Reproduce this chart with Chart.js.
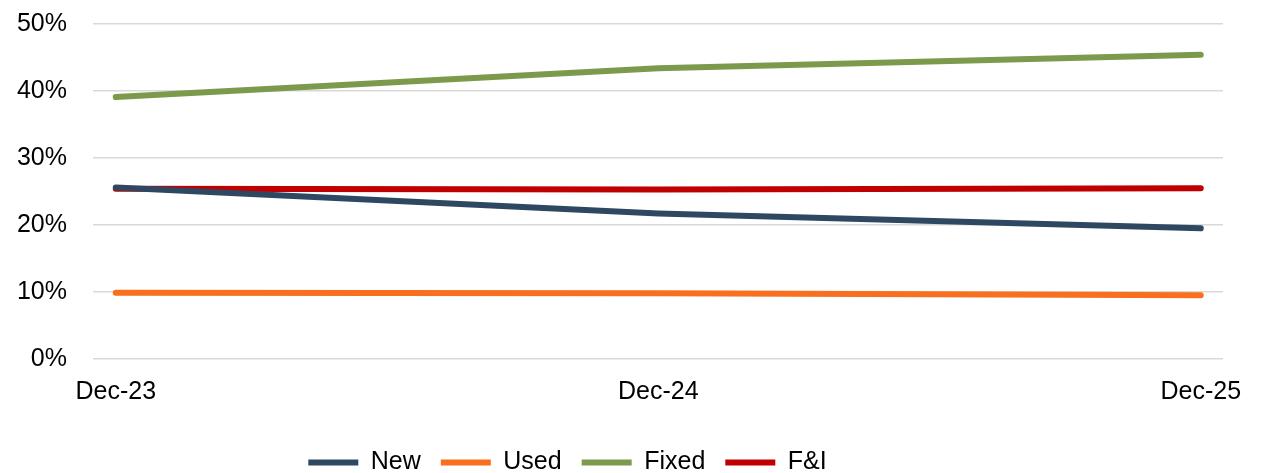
<!DOCTYPE html>
<html>
<head>
<meta charset="utf-8">
<script src="https://cdn.jsdelivr.net/npm/chart.js@4/dist/chart.umd.min.js"></script>
<style>
  html, body { margin: 0; padding: 0; background: #fff; }
  #wrap { width: 1266px; height: 473px; }
</style>
</head>
<body>
<div id="wrap"><canvas id="c"></canvas></div>
<script>
// Period labels along the bottom axis
const periods = ['Dec-23', 'Dec-24', 'Dec-25'];

// Share of gross profit by department, in percent
const newShare   = [25.6, 21.7, 19.5];
const usedShare  = [9.9, 9.8, 9.5];
const fixedShare = [39.1, 43.4, 45.4];
const fiShare    = [25.4, 25.3, 25.5];

// Value-axis ticks
const yTicks = [0, 10, 20, 30, 40, 50];

const FONT = "'Liberation Sans', Arial, sans-serif";
const FONT_SIZE = 25;

function series(label, values, color) {
  return {
    label,
    data: values.map((v, i) => ({ x: i, y: v })),
    borderColor: color,
    backgroundColor: color,
    borderWidth: 6,
    borderCapStyle: 'round',
    borderJoinStyle: 'round',
    pointRadius: 0,
    pointHoverRadius: 0,
    tension: 0,
    pointStyle: 'line'
  };
}

// Places the legend row slightly left of centre and near the bottom edge
const legendShift = {
  id: 'legendShift',
  afterLayout(chart) {
    const lg = chart.legend;
    if (lg) { lg.left -= 44; lg.right -= 44; lg.top += 12; lg.bottom += 12; }
  }
};

new Chart(document.getElementById('c'), {
  type: 'line',
  data: {
    datasets: [
      series('New', newShare, '#2E4862'),
      series('Used', usedShare, '#F96F1E'),
      series('Fixed', fixedShare, '#7B9A4B'),
      series('F&I', fiShare, '#C00000')
    ]
  },
  plugins: [legendShift],
  options: {
    responsive: true,
    maintainAspectRatio: false,
    animation: false,
    layout: { padding: { top: 0, right: 43, left: 0, bottom: 0 } },
    plugins: {
      tooltip: { enabled: false },
      legend: {
        position: 'bottom',
        labels: {
          usePointStyle: true,
          pointStyleWidth: 50,
          padding: 20,
          color: '#000',
          font: { family: FONT, size: FONT_SIZE }
        }
      }
    },
    scales: {
      x: {
        type: 'linear',
        min: -0.042,
        max: 2.041,
        afterBuildTicks(scale) {
          scale.ticks = periods.map((_, i) => ({ value: i }));
        },
        afterFit(scale) {
          scale.height = 59;
        },
        ticks: {
          autoSkip: false,
          maxRotation: 0,
          padding: 18,
          color: '#000',
          font: { family: FONT, size: FONT_SIZE },
          callback: (v) => periods[v]
        },
        grid: { display: false, drawTicks: false },
        border: { display: false }
      },
      y: {
        min: 0,
        max: 50,
        afterBuildTicks(scale) {
          scale.ticks = yTicks.map(v => ({ value: v }));
        },
        afterFit(scale) {
          scale.width = 93;
          scale.paddingTop = 24;
          scale.paddingBottom = 0;
        },
        ticks: {
          padding: 26,
          color: '#000',
          font: { family: FONT, size: FONT_SIZE },
          callback: (v) => v + '%'
        },
        grid: { color: '#D9D9D9', lineWidth: 1.5, drawTicks: false },
        border: { display: false }
      }
    }
  }
});
</script>
</body>
</html>
